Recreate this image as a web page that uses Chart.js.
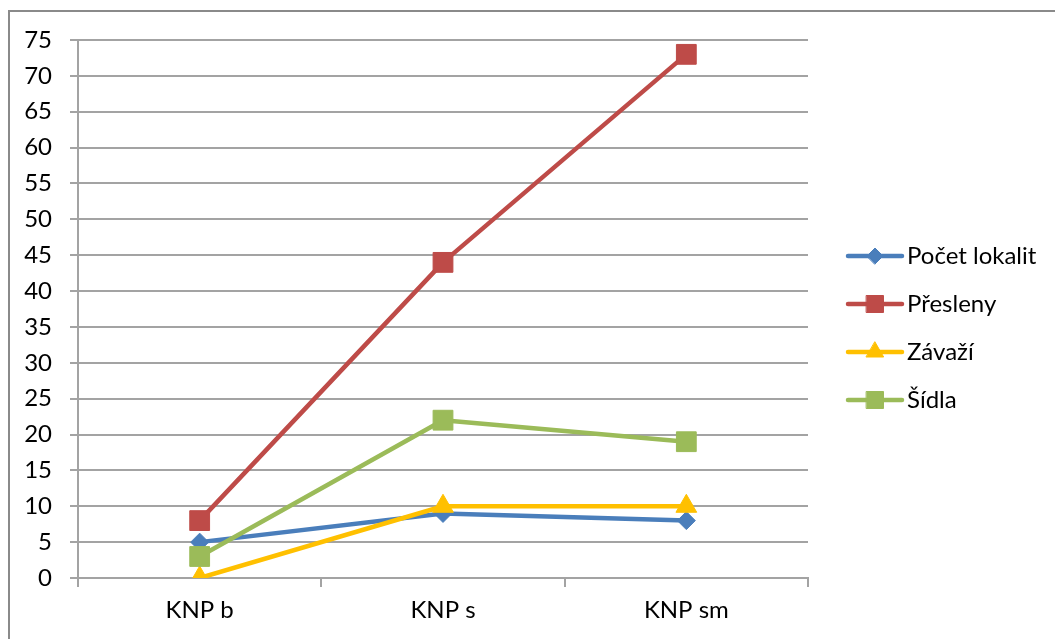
<!DOCTYPE html>
<html>
<head>
<meta charset="utf-8">
<script src="https://cdn.jsdelivr.net/npm/chart.js@4.4.0/dist/chart.umd.min.js"></script>
<style>
  html, body { margin: 0; padding: 0; background: #fff; }
  #wrap { position: relative; width: 1055px; height: 639px; overflow: hidden; }
  #frame { position: absolute; left: 8px; top: 10px; width: 1100px; height: 700px;
           border: 2px solid #8a8a8a; box-sizing: border-box; }
  #c { position: absolute; left: 0; top: 0; }
</style>
</head>
<body>
<div id="wrap">
  <div id="frame"></div>
  <canvas id="c" width="1055" height="639"></canvas>
</div>
<script>
// Categories and series
const categories = ['KNP b', 'KNP s', 'KNP sm'];
const pocetLokalit = [5, 9, 8];
const presleny = [8, 44, 73];
const zavazi = [0, 10, 10];
const sidla = [3, 22, 19];

// Value axis range and step
const yMin = 0;
const yMax = 75;
const yStep = 5;

const FONT = 'Lato, "Open Sans", sans-serif';
const FONT_SIZE = 24;
const GRID = '#a3a3a3';

// Legend drawn at the right of the plot: line sample + marker + label
const sideLegend = {
  id: 'sideLegend',
  afterDraw(chart, args, opts) {
    const ctx = chart.ctx;
    chart.data.datasets.forEach((ds, i) => {
      const cy = opts.top + i * opts.step;
      const x0 = opts.left;
      const x1 = opts.left + opts.lineLength;
      ctx.save();
      ctx.strokeStyle = ds.borderColor;
      ctx.lineWidth = ds.borderWidth;
      ctx.lineCap = 'round';
      ctx.beginPath();
      ctx.moveTo(x0, cy);
      ctx.lineTo(x1, cy);
      ctx.stroke();
      ctx.fillStyle = ds.pointBackgroundColor;
      ctx.strokeStyle = ds.pointBorderColor;
      ctx.lineWidth = 1;
      Chart.helpers.drawPoint(ctx, {
        pointStyle: ds.pointStyle,
        radius: opts.markerRadius[i],
        borderWidth: 1,
        rotation: 0
      }, (x0 + x1) / 2, cy);
      ctx.fillStyle = '#000';
      ctx.font = FONT_SIZE + 'px ' + FONT;
      ctx.textBaseline = 'middle';
      ctx.textAlign = 'left';
      ctx.fillText(ds.label, x1 + opts.gap, cy);
      ctx.restore();
    });
  }
};

function series(label, data, color, style, radius, order) {
  return {
    label, data, order,
    borderColor: color,
    backgroundColor: color,
    borderWidth: 4.5,
    borderCapStyle: 'round',
    borderJoinStyle: 'round',
    tension: 0,
    pointStyle: style,
    pointRadius: radius,
    pointHoverRadius: radius,
    pointBackgroundColor: color,
    pointBorderColor: color,
    pointBorderWidth: 1
  };
}

new Chart(document.getElementById('c'), {
  type: 'line',
  data: {
    labels: categories,
    datasets: [
      series('Počet lokalit', pocetLokalit, '#4A7EBB', 'rectRot', 9, 4),
      series('Přesleny', presleny, '#BE4B48', 'rect', 14, 3),
      series('Závaží', zavazi, '#FFC000', 'triangle', 12, 2),
      series('Šídla', sidla, '#9BBB59', 'rect', 14, 1)
    ]
  },
  options: {
    responsive: false,
    animation: false,
    layout: { padding: { left: 0, top: 40, right: 247, bottom: 0 } },
    plugins: {
      legend: { display: false },
      tooltip: { enabled: false },
      sideLegend: {
        left: 848, top: 256, step: 48, lineLength: 54, gap: 5,
        markerRadius: [8, 12, 10, 12]
      }
    },
    scales: {
      x: {
        type: 'category',
        offset: true,
        grid: {
          offset: true,
          drawOnChartArea: false,
          drawTicks: true,
          tickLength: 9,
          color: GRID,
          lineWidth: 2
        },
        border: { display: true, color: GRID, width: 2 },
        ticks: {
          color: '#000',
          padding: 9,
          font: { family: FONT, size: FONT_SIZE }
        },
        afterFit(scale) { scale.height = 61; }
      },
      y: {
        min: yMin,
        max: yMax,
        grid: {
          color: GRID,
          lineWidth: 2,
          drawTicks: true,
          tickLength: 8
        },
        border: { display: true, color: GRID, width: 2 },
        ticks: {
          stepSize: yStep,
          color: '#000',
          padding: 18,
          font: { family: FONT, size: FONT_SIZE }
        },
        afterFit(scale) { scale.width = 78; }
      }
    }
  },
  plugins: [sideLegend]
});
</script>
</body>
</html>
